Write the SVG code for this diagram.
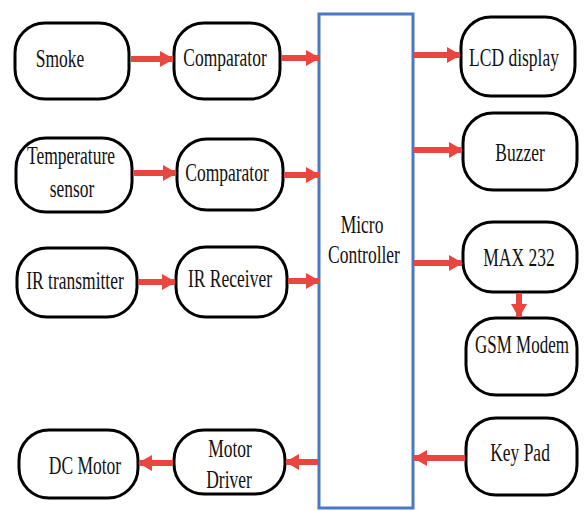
<svg xmlns="http://www.w3.org/2000/svg" width="584" height="511" viewBox="0 0 584 511">
<defs>
<marker id="ah" markerUnits="userSpaceOnUse" markerWidth="14" markerHeight="16" refX="13" refY="8" orient="auto">
<path d="M0,0 L14,8 L0,16 Z" fill="#e8463f"/>
</marker>
</defs>
<style>
.n rect{fill:#fff;stroke:#000;stroke-width:3}
.n text{font-family:'Liberation Serif','Times New Roman',serif;font-size:25px;fill:#111;text-anchor:middle}
.c line{stroke:#e8463f;stroke-width:6;marker-end:url(#ah)}
</style>
<rect width="584" height="511" fill="#fff"/>
<g id="mc" class="n">
<rect x="319" y="14" width="94" height="494" style="stroke:#4a78c2;stroke-width:3"/>
<text transform="translate(362,233) scale(0.7,1)">Micro</text>
<text transform="translate(364,263) scale(0.7,1)">Controller</text>
</g>
<g id="smoke" class="n"><rect x="15" y="23" width="114" height="76" rx="30"/><text transform="translate(60,67) scale(0.7,1)">Smoke</text></g>
<g id="comp1" class="n"><rect x="174" y="23" width="106" height="76" rx="30"/><text transform="translate(225,66) scale(0.7,1)">Comparator</text></g>
<g id="temp" class="n"><rect x="16" y="138" width="116" height="74" rx="30"/><text transform="translate(71,164) scale(0.7,1)">Temperature</text><text transform="translate(72,197) scale(0.7,1)">sensor</text></g>
<g id="comp2" class="n"><rect x="177" y="139" width="106" height="71" rx="30"/><text transform="translate(227,181) scale(0.7,1)">Comparator</text></g>
<g id="irt" class="n"><rect x="17" y="248" width="120" height="69" rx="30"/><text transform="translate(75,289) scale(0.7,1)">IR transmitter</text></g>
<g id="irr" class="n"><rect x="176" y="247" width="111" height="70" rx="30"/><text transform="translate(230,287) scale(0.7,1)">IR Receiver</text></g>
<g id="dcm" class="n"><rect x="19" y="430" width="119" height="68" rx="30"/><text transform="translate(85,474) scale(0.7,1)">DC Motor</text></g>
<g id="md" class="n"><rect x="174" y="430" width="111" height="64" rx="30"/><text transform="translate(230,457) scale(0.7,1)">Motor</text><text transform="translate(229,488) scale(0.7,1)">Driver</text></g>
<g id="lcd" class="n"><rect x="461" y="17" width="114" height="79" rx="30"/><text transform="translate(514,66) scale(0.7,1)">LCD display</text></g>
<g id="buz" class="n"><rect x="463" y="113" width="114" height="77" rx="30"/><text transform="translate(520,161) scale(0.7,1)">Buzzer</text></g>
<g id="max" class="n"><rect x="463" y="222" width="114" height="70" rx="30"/><text transform="translate(519,266) scale(0.7,1)">MAX 232</text></g>
<g id="gsm" class="n"><rect x="466" y="318" width="111" height="77" rx="30"/><text transform="translate(522,353) scale(0.68,1)">GSM Modem</text></g>
<g id="key" class="n"><rect x="466" y="418" width="111" height="77" rx="30"/><text transform="translate(520,461) scale(0.7,1)">Key Pad</text></g>
<g id="connectors" class="c">
<line x1="131" y1="59" x2="173" y2="59"/>
<line x1="281" y1="58" x2="319" y2="58"/>
<line x1="134" y1="173" x2="176" y2="173"/>
<line x1="284" y1="175" x2="319" y2="175"/>
<line x1="138" y1="282" x2="175" y2="282"/>
<line x1="288" y1="281" x2="319" y2="281"/>
<line x1="318" y1="462" x2="286" y2="462"/>
<line x1="173" y1="463" x2="139" y2="463"/>
<line x1="414" y1="55" x2="460" y2="55"/>
<line x1="414" y1="150" x2="462" y2="150"/>
<line x1="414" y1="263" x2="462" y2="263"/>
<line x1="519" y1="293" x2="519" y2="317"/>
<line x1="465" y1="458" x2="414" y2="458"/>
</g>
</svg>
